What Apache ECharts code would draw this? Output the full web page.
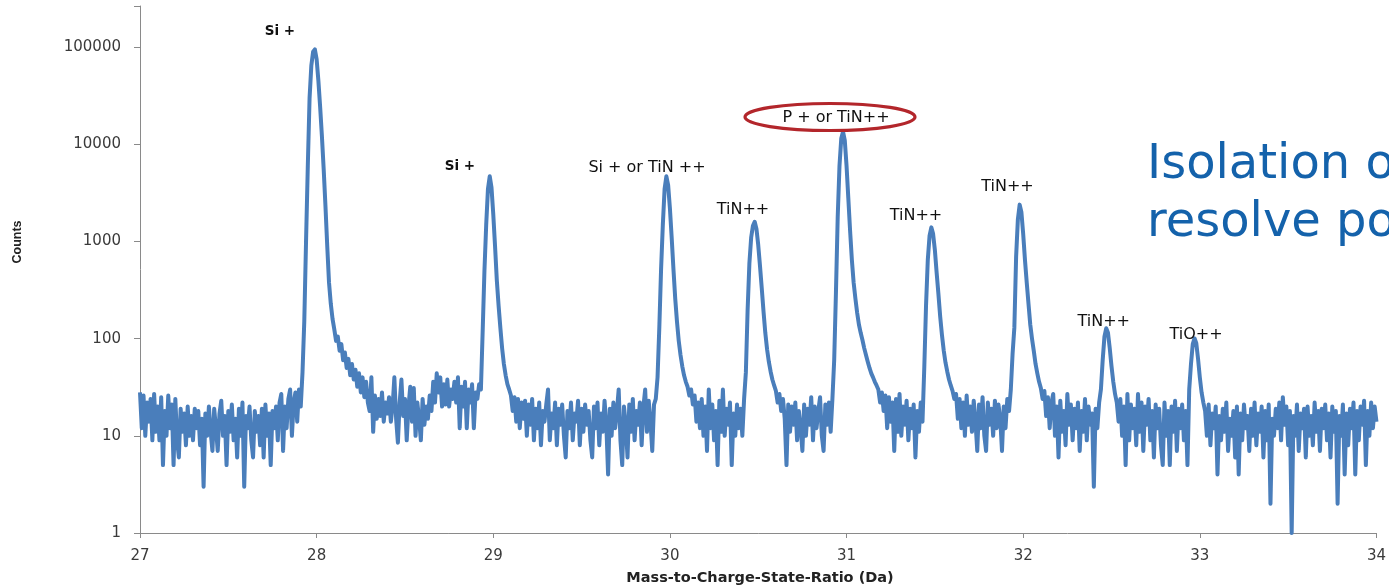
<!DOCTYPE html>
<html><head><meta charset="utf-8">
<script src="https://cdn.jsdelivr.net/npm/echarts@6/dist/echarts.min.js"></script>
<style>html,body{margin:0;padding:0;background:#fff;overflow:hidden}#chart{width:1389px;height:588px}</style>
</head><body><div id="chart"></div>
<script>
// Mass spectrum sampled every 0.01 Da; one array per Dalton (27.00-27.99, 28.00-28.99, ...)
const massStart = 27;
const massStep = 0.01;
const counts27 = [
  28, 12, 26, 10, 22, 14, 24, 9, 27, 11,
  20, 9, 25, 5, 18, 10, 26, 12, 21, 5,
  24, 9, 6, 19, 11, 17, 8, 20, 10, 16,
  9, 19, 12, 18, 8, 15, 3, 17, 10, 20,
  11, 7, 19, 12, 7, 17, 23, 10, 16, 5,
  18, 11, 21, 9, 15, 6, 19, 10, 22, 3,
  16, 12, 20, 9, 6, 18, 11, 16, 8, 19,
  6, 21, 10, 17, 5, 18, 12, 20, 9, 22,
  27, 7, 20, 12, 24, 30, 10, 22, 28, 14,
  30, 20, 45, 150, 1000, 6000, 30000, 65000, 90000, 95000
];
const counts28 = [
  75000, 45000, 24000, 12000, 5500, 2300, 900, 380, 230, 160,
  125, 95, 105, 75, 88, 60, 72, 50, 62, 42,
  55, 38, 48, 32, 44, 28, 40, 25, 36, 22,
  18, 40, 11, 26, 15, 24, 16, 28, 14, 22,
  17, 25, 14, 20, 40, 15, 8.5, 22, 38, 16,
  24, 9, 20, 32, 14, 31, 10, 22, 15, 9,
  24, 13, 20, 15, 26, 18, 36, 22, 44, 28,
  40, 20, 34, 21, 38, 20, 30, 24, 36, 22,
  40, 12, 32, 20, 36, 12, 30, 22, 34, 12,
  28, 24, 34, 30, 120, 500, 1500, 3500, 4700, 3600
];
const counts29 = [
  1900, 900, 400, 220, 130, 80, 55, 42, 34, 30,
  26, 18, 25, 14, 24, 12, 22, 15, 23, 10,
  21, 13, 24, 9, 19, 12, 22, 8, 18, 14,
  21, 30, 9, 17, 12, 22, 8, 19, 13, 21,
  10, 6, 18, 12, 22, 9, 17, 14, 23, 8,
  19, 11, 21, 13, 18, 9, 6, 20, 12, 22,
  8, 17, 11, 23, 13, 4, 19, 10, 22, 12,
  18, 30, 9, 5, 20, 13, 6, 21, 11, 24,
  9, 18, 13, 22, 8, 20, 30, 11, 23, 14,
  7, 21, 24, 40, 130, 520, 1500, 3500, 4700, 3800
];
const counts30 = [
  2200, 1100, 520, 260, 150, 95, 68, 52, 42, 36,
  32, 26, 30, 21, 26, 14, 22, 12, 24, 10,
  20, 7, 30, 12, 21, 9, 18, 5, 23, 11,
  30, 10, 19, 13, 22, 5, 17, 10, 21, 12,
  19, 10, 24, 45, 200, 600, 1100, 1450, 1600, 1350,
  920, 560, 330, 190, 115, 78, 58, 46, 38, 33,
  29, 22, 27, 18, 24, 15, 5, 21, 11, 20,
  13, 22, 9, 18, 12, 7, 21, 10, 19, 13,
  25, 9, 20, 12, 18, 25, 10, 7, 21, 13,
  22, 11, 24, 60, 300, 1800, 6000, 11500, 13500, 11000
];
const counts31 = [
  6000, 2800, 1300, 650, 380, 260, 185, 140, 115, 97,
  80, 68, 58, 50, 44, 40, 36, 33, 30, 22,
  28, 18, 26, 12, 25, 14, 22, 7, 24, 11,
  27, 10, 20, 13, 23, 9, 19, 12, 21, 6,
  18, 11, 22, 14, 50, 220, 650, 1150, 1400, 1200,
  820, 480, 290, 170, 110, 76, 57, 46, 38, 33,
  29, 24, 27, 15, 24, 12, 22, 10, 26, 13,
  20, 11, 23, 14, 7, 21, 12, 25, 10, 7,
  22, 13, 19, 10, 23, 12, 21, 15, 7, 20,
  12, 24, 18, 30, 70, 130, 700, 1700, 2400, 2000
];
const counts32 = [
  1200, 650, 380, 230, 140, 100, 75, 55, 44, 36,
  31, 24, 29, 16, 25, 12, 22, 27, 10, 20,
  6, 23, 11, 18, 8, 27, 13, 21, 9, 19,
  12, 22, 7, 18, 11, 24, 9, 20, 13, 17,
  3, 19, 12, 22, 30, 60, 105, 128, 115, 80,
  52, 36, 27, 22, 14, 24, 10, 20, 5, 27,
  9, 21, 12, 19, 8, 27, 11, 22, 7, 20,
  13, 24, 9, 18, 6, 21, 12, 19, 8, 5,
  22, 10, 18, 5, 20, 11, 23, 7, 19, 12,
  21, 9, 18, 5, 30, 55, 88, 101, 90, 62
];
const counts33 = [
  40, 28, 22, 18, 10, 21, 8, 17, 12, 20,
  4, 16, 9, 19, 11, 22, 7, 15, 10, 18,
  6, 20, 4, 17, 9, 21, 12, 16, 7, 19,
  10, 22, 8, 17, 11, 20, 6, 18, 9, 21,
  2, 15, 10, 19, 12, 22, 9, 25, 13, 20,
  8, 18, 1, 16, 10, 21, 7, 17, 12, 19,
  6, 20, 10, 16, 8, 22, 11, 18, 7, 19,
  12, 21, 9, 17, 6, 20, 11, 18, 2, 16,
  10, 21, 4, 17, 8, 19, 12, 22, 4, 18,
  9, 20, 13, 23, 5, 18, 10, 22, 12, 20
];
const counts34 = [14];

const peakLabels = ['Si +', 'Si +', 'Si + or TiN ++', 'TiN++', 'P + or TiN++', 'TiN++', 'TiN++', 'TiN++', 'TiO++'];
const xAxisTitle = 'Mass-to-Charge-State-Ratio (Da)';
const yAxisTitle = 'Counts';
const sideNote = ['Isolation of', 'resolve power'];

const segments = [counts27, counts28, counts29, counts30, counts31, counts32, counts33, counts34];
const seriesData = [];
segments.forEach((seg, k) => {
  seg.forEach((v, i) => {
    seriesData.push([Math.round((massStart + k + i * massStep) * 100) / 100, v]);
  });
});

const axisGray = '#8a8a8a';
const labelFont = 'DejaVu Sans';
const labelPos = [[280, 31], [460, 166], [647, 168], [743, 210], [836, 117.5], [916, 216], [1007.5, 187], [1103.7, 322], [1196, 334.5]];

const graphics = peakLabels.map((t, i) => ({
  type: 'text', x: labelPos[i][0], y: labelPos[i][1], z: 10,
  style: {
    text: t, fill: '#111', align: 'center', verticalAlign: 'middle',
    fontFamily: labelFont, fontSize: i < 2 ? 13.5 : 16, fontWeight: i < 2 ? 'bold' : 'normal'
  }
}));
graphics.push({
  type: 'ellipse', z: 9,
  shape: { cx: 830, cy: 117, rx: 85, ry: 13.5 },
  style: { fill: 'none', stroke: '#b3262b', lineWidth: 3.2 }
});
graphics.push({
  type: 'text', x: 18, y: 242, rotation: Math.PI / 2, z: 10,
  style: { text: yAxisTitle, fill: '#222', align: 'center', verticalAlign: 'middle', fontFamily: 'Liberation Sans', fontWeight: 'bold', fontSize: 12.5 }
});
graphics.push({
  type: 'text', x: 760, y: 578, z: 10,
  style: { text: xAxisTitle, fill: '#222', align: 'center', verticalAlign: 'middle', fontFamily: labelFont, fontWeight: 'bold', fontSize: 14.5 }
});
graphics.push({
  type: 'text', x: 1147, y: 166, z: 10,
  style: { text: sideNote[0], fill: '#1462ab', align: 'left', verticalAlign: 'middle', fontFamily: labelFont, fontSize: 48 }
});
graphics.push({
  type: 'text', x: 1147, y: 224, z: 10,
  style: { text: sideNote[1], fill: '#1462ab', align: 'left', verticalAlign: 'middle', fontFamily: labelFont, fontSize: 48 }
});

const chart = echarts.init(document.getElementById('chart'), null, { renderer: 'canvas' });
chart.setOption({
  animation: false,
  backgroundColor: '#fff',
  grid: { left: 140, right: 7, top: 6, bottom: 55, containLabel: false },
  xAxis: {
    type: 'value', min: 27, max: 34, interval: 1,
    axisLine: { show: true, lineStyle: { color: axisGray, width: 1 } },
    axisTick: { show: true, length: 5, lineStyle: { color: axisGray } },
    axisLabel: { color: '#3a3a3a', fontFamily: labelFont, fontSize: 15, margin: 16 },
    splitLine: { show: false }
  },
  yAxis: {
    type: 'log', logBase: 10, min: 1, max: 266000,
    axisLine: { show: true, lineStyle: { color: axisGray, width: 1 } },
    axisTick: { show: true, length: 6, lineStyle: { color: axisGray } },
    axisLabel: {
      color: '#3a3a3a', fontFamily: labelFont, fontSize: 15, margin: 19,
      formatter: function (v) {
        const e = Math.log10(v);
        return Math.abs(e - Math.round(e)) < 1e-6 ? String(Math.round(v)) : '';
      }
    },
    splitLine: { show: false }
  },
  series: [{
    type: 'line', data: seriesData, showSymbol: false, symbol: 'none',
    sampling: null, clip: true,
    lineStyle: { color: '#4a7ebb', width: 4, join: 'round' }
  }],
  graphic: graphics
});
</script>
</body></html>
